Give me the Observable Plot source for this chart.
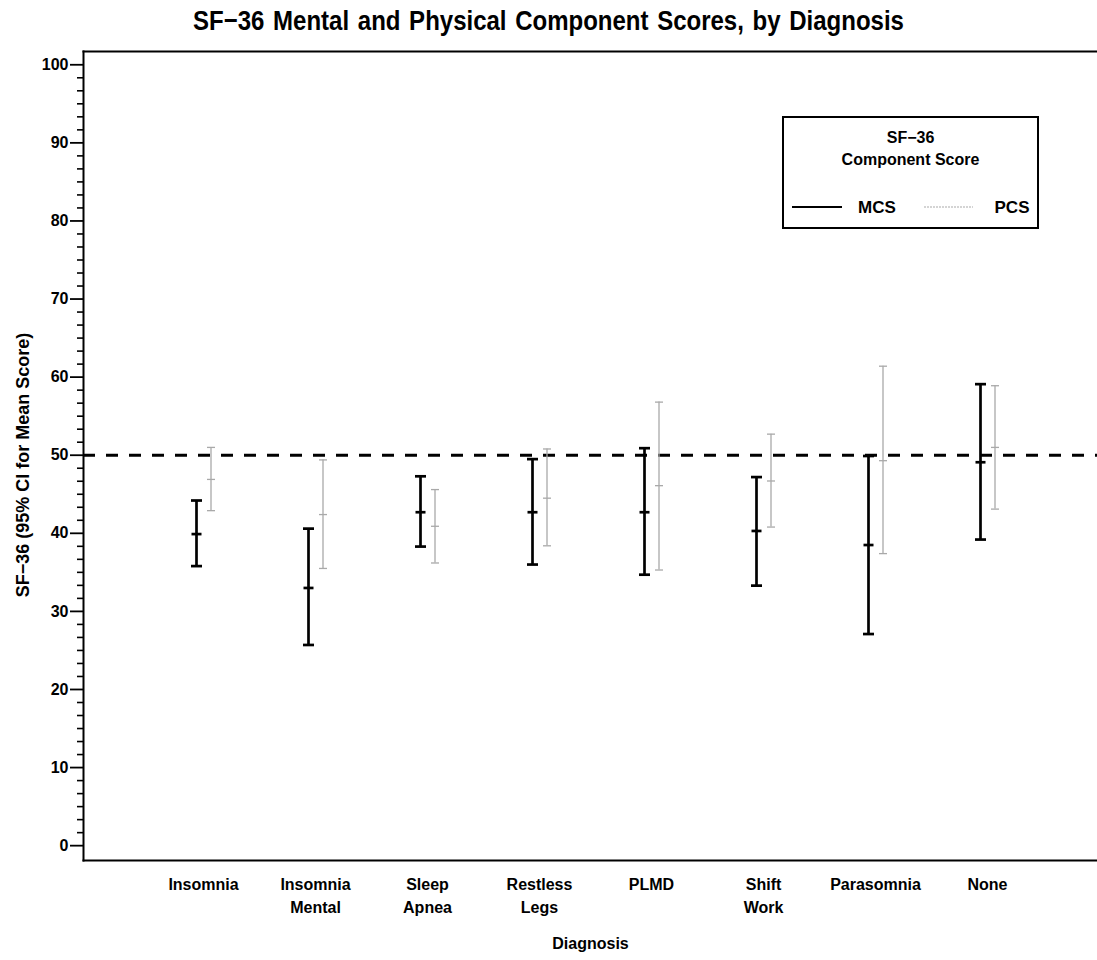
<!DOCTYPE html>
<html>
<head>
<meta charset="utf-8">
<script src="https://cdn.jsdelivr.net/npm/d3@7"></script>
<script src="https://cdn.jsdelivr.net/npm/@observablehq/plot@0.6"></script>
<style>
  html, body { margin: 0; padding: 0; background: #fff; }
  body { width: 1097px; height: 960px; position: relative; overflow: hidden; font-family: "Liberation Sans", Arial, sans-serif; }
  #title { position: absolute; left: 0; top: 0; width: 1097px; height: 46px; text-align: center; font-weight: bold; font-size: 24px; line-height: 42px; color: #000; }
  #title span { display: inline-block; transform: scaleY(1.15); word-spacing: 2px; }
  #chart { position: absolute; left: 0; top: 46px; }
  #legend { position: absolute; left: 782px; top: 116px; width: 253px; height: 109px; border: 2px solid #000; background: #fff; font-weight: bold; font-size: 16px; color: #000; }
  #legend .t { position: absolute; left: 0; width: 100%; text-align: center; }
</style>
</head>
<body>
<div id="title"><span>SF−36 Mental and Physical Component Scores, by Diagnosis</span></div>
<div id="chart"></div>
<div id="legend"></div>
<script>
// ---- data ----
const diagnoses = ["Insomnia", "Insomnia\nMental", "Sleep\nApnea", "Restless\nLegs", "PLMD", "Shift\nWork", "Parasomnia", "None"];
const mcsMean = [39.9, 33.0, 42.7, 42.7, 42.7, 40.3, 38.5, 49.1];
const mcsLow  = [35.8, 25.7, 38.3, 36.0, 34.7, 33.3, 27.1, 39.2];
const mcsHigh = [44.2, 40.6, 47.3, 49.5, 50.9, 47.2, 49.9, 59.1];
const pcsMean = [46.9, 42.4, 40.9, 44.5, 46.1, 46.7, 49.3, 51.0];
const pcsLow  = [42.9, 35.5, 36.2, 38.4, 35.3, 40.8, 37.4, 43.1];
const pcsHigh = [51.0, 49.4, 45.6, 50.8, 56.8, 52.7, 61.4, 58.9];
const seriesNames = ["MCS", "PCS"];
const referenceLine = [50];
const yMajorTicks = [0, 10, 20, 30, 40, 50, 60, 70, 80, 90, 100];
const legendTitle = ["SF−36", "Component Score"];
const yLabel = "SF−36 (95% CI for Mean Score)";
const xLabel = "Diagnosis";

const mcs = diagnoses.map((d, i) => ({diag: d, series: "MCS", mean: mcsMean[i], lo: mcsLow[i], hi: mcsHigh[i]}));
const pcs = diagnoses.map((d, i) => ({diag: d, series: "PCS", mean: pcsMean[i], lo: pcsLow[i], hi: pcsHigh[i]}));
// minor ticks: five between each pair of majors
const yMinorTicks = d3.range(0, 61).filter(i => i % 6 !== 0).map(i => i * 10 / 6);

const font = "Liberation Sans, Arial, sans-serif";
const gray = "#a9a9a9";

// horizontal-line symbol (half-width = r) for caps and mean ticks
const hline = {
  draw(context, size) {
    const r = Math.sqrt(size / Math.PI);
    context.moveTo(-r, 0);
    context.lineTo(r, 0);
  }
};

function bars(rows, dx, stroke, width, capR, meanR) {
  return [
    Plot.ruleX(rows, {x: "diag", y1: "lo", y2: "hi", dx, stroke, strokeWidth: width}),
    Plot.dot(rows, {x: "diag", y: "hi", dx, symbol: hline, r: capR, stroke, strokeWidth: width, fill: "none"}),
    Plot.dot(rows, {x: "diag", y: "lo", dx, symbol: hline, r: capR, stroke, strokeWidth: width, fill: "none"}),
    Plot.dot(rows, {x: "diag", y: "mean", dx, symbol: hline, r: meanR, stroke, strokeWidth: width, fill: "none"})
  ];
}

const chart = Plot.plot({
  width: 1097,
  height: 914,
  marginLeft: 83,
  marginRight: 0,
  marginTop: 5,
  marginBottom: 100,
  style: {fontFamily: font, fontSize: "16px", color: "#000", background: "#fff", overflow: "visible"},
  x: {type: "point", domain: diagnoses, padding: 1, align: 0.52, label: null},
  y: {domain: [-1.9, 101.7], label: null},
  marks: [
    // reference line at 50
    Plot.ruleY(referenceLine, {stroke: "#000", strokeWidth: 3, strokeDasharray: "12,11"}),
    // y axis: minor + major ticks
    Plot.axisY({ticks: yMinorTicks, tickSize: 6, tickFormat: () => "", strokeWidth: 1.6, label: null}),
    Plot.axisY({ticks: yMajorTicks, tickSize: 13, tickPadding: 2, strokeWidth: 1.8, fontSize: 16, fontWeight: "bold", label: null}),
    // x axis labels
    Plot.axisX({tickSize: 0, tickPadding: 14, fontSize: 16, fontWeight: "bold", lineHeight: 1.4, label: null}),
    // axis titles
    Plot.text([yLabel], {frameAnchor: "left", textAnchor: "middle", rotate: -90, dx: -60, dy: 9, fontSize: 18, fontWeight: "bold", text: d => d}),
    Plot.text([xLabel], {frameAnchor: "bottom", dy: 88, fontSize: 16, fontWeight: "bold", text: d => d}),
    // PCS (gray) and MCS (black) error bars
    ...bars(pcs, 7.5, gray, 1.3, 4, 4),
    ...bars(mcs, -7, "#000", 2.7, 5.5, 5),
    // frame (top, left, bottom)
    Plot.frame({anchor: "top", stroke: "#000", strokeWidth: 2}),
    Plot.frame({anchor: "left", stroke: "#000", strokeWidth: 2}),
    Plot.frame({anchor: "bottom", stroke: "#000", strokeWidth: 2})
  ]
});
document.getElementById("chart").appendChild(chart);

// legend
const legend = document.getElementById("legend");
legend.innerHTML = `
  <div class="t" style="top:11px">${legendTitle[0]}</div>
  <div class="t" style="top:33px">${legendTitle[1]}</div>
  <svg width="253" height="109" style="position:absolute;left:0;top:0">
    <line x1="8" x2="58" y1="89" y2="89" stroke="#000" stroke-width="2"></line>
    <text x="93" y="95" text-anchor="middle" font-family="${font}" font-weight="bold" font-size="17">${seriesNames[0]}</text>
    <line x1="140" x2="189" y1="89" y2="89" stroke="${gray}" stroke-width="1.2" stroke-dasharray="2,1"></line>
    <text x="228" y="95" text-anchor="middle" font-family="${font}" font-weight="bold" font-size="17">${seriesNames[1]}</text>
  </svg>`;
</script>
</body>
</html>
